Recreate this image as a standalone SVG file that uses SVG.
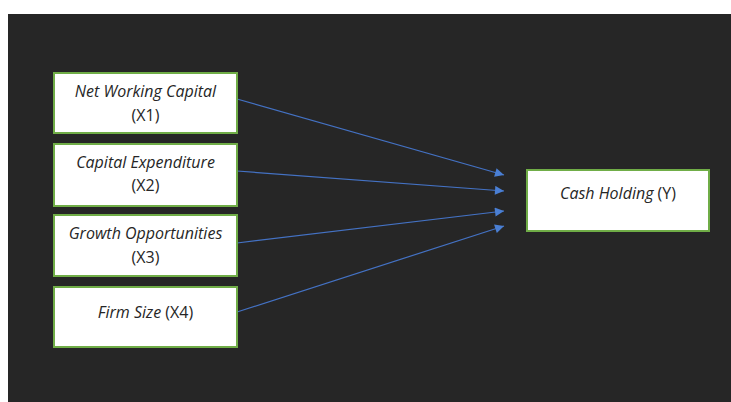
<svg xmlns="http://www.w3.org/2000/svg" width="731" height="402" viewBox="0 0 731 402">
<defs>
<marker id="ah" viewBox="0 0 10 10" refX="10" refY="5" markerWidth="10" markerHeight="9" markerUnits="userSpaceOnUse" orient="auto">
<path d="M0,0 L10,5 L0,10 Z" fill="#4a7fd4"/>
</marker>
</defs>
<style>
.box{fill:#ffffff;stroke:#70ad47;stroke-width:2}
.t{font-family:"Open Sans","Noto Sans",sans-serif;font-size:16px;fill:#262626;text-anchor:middle}
.i{font-style:italic}
.c{stroke:#4472c4;stroke-width:1.2;fill:none;marker-end:url(#ah)}
</style>
<rect x="0" y="0" width="731" height="402" fill="#ffffff"/>
<rect x="8" y="14" width="723" height="388" fill="#262626"/>
<g id="connectors">
<line class="c" x1="237" y1="99" x2="504" y2="175"/>
<line class="c" x1="237" y1="171" x2="504" y2="191"/>
<line class="c" x1="237" y1="243" x2="504" y2="211"/>
<line class="c" x1="237" y1="312" x2="504" y2="226"/>
</g>
<g id="n1">
<rect class="box" x="54" y="73" width="183" height="60"/>
<text class="t i" x="145.5" y="97">Net Working Capital</text>
<text class="t" x="145.5" y="121">(X1)</text>
</g>
<g id="n2">
<rect class="box" x="54" y="144" width="183" height="62"/>
<text class="t i" x="145.5" y="168">Capital Expenditure</text>
<text class="t" x="145.5" y="191">(X2)</text>
</g>
<g id="n3">
<rect class="box" x="54" y="215" width="183" height="61"/>
<text class="t i" x="145.5" y="239">Growth Opportunities</text>
<text class="t" x="145.5" y="263">(X3)</text>
</g>
<g id="n4">
<rect class="box" x="54" y="287" width="183" height="60"/>
<text class="t" x="145.5" y="318"><tspan class="i">Firm Size</tspan> (X4)</text>
</g>
<g id="y">
<rect class="box" x="527" y="170" width="182" height="61"/>
<text class="t" x="618" y="199"><tspan class="i">Cash Holding</tspan> (Y)</text>
</g>
</svg>
